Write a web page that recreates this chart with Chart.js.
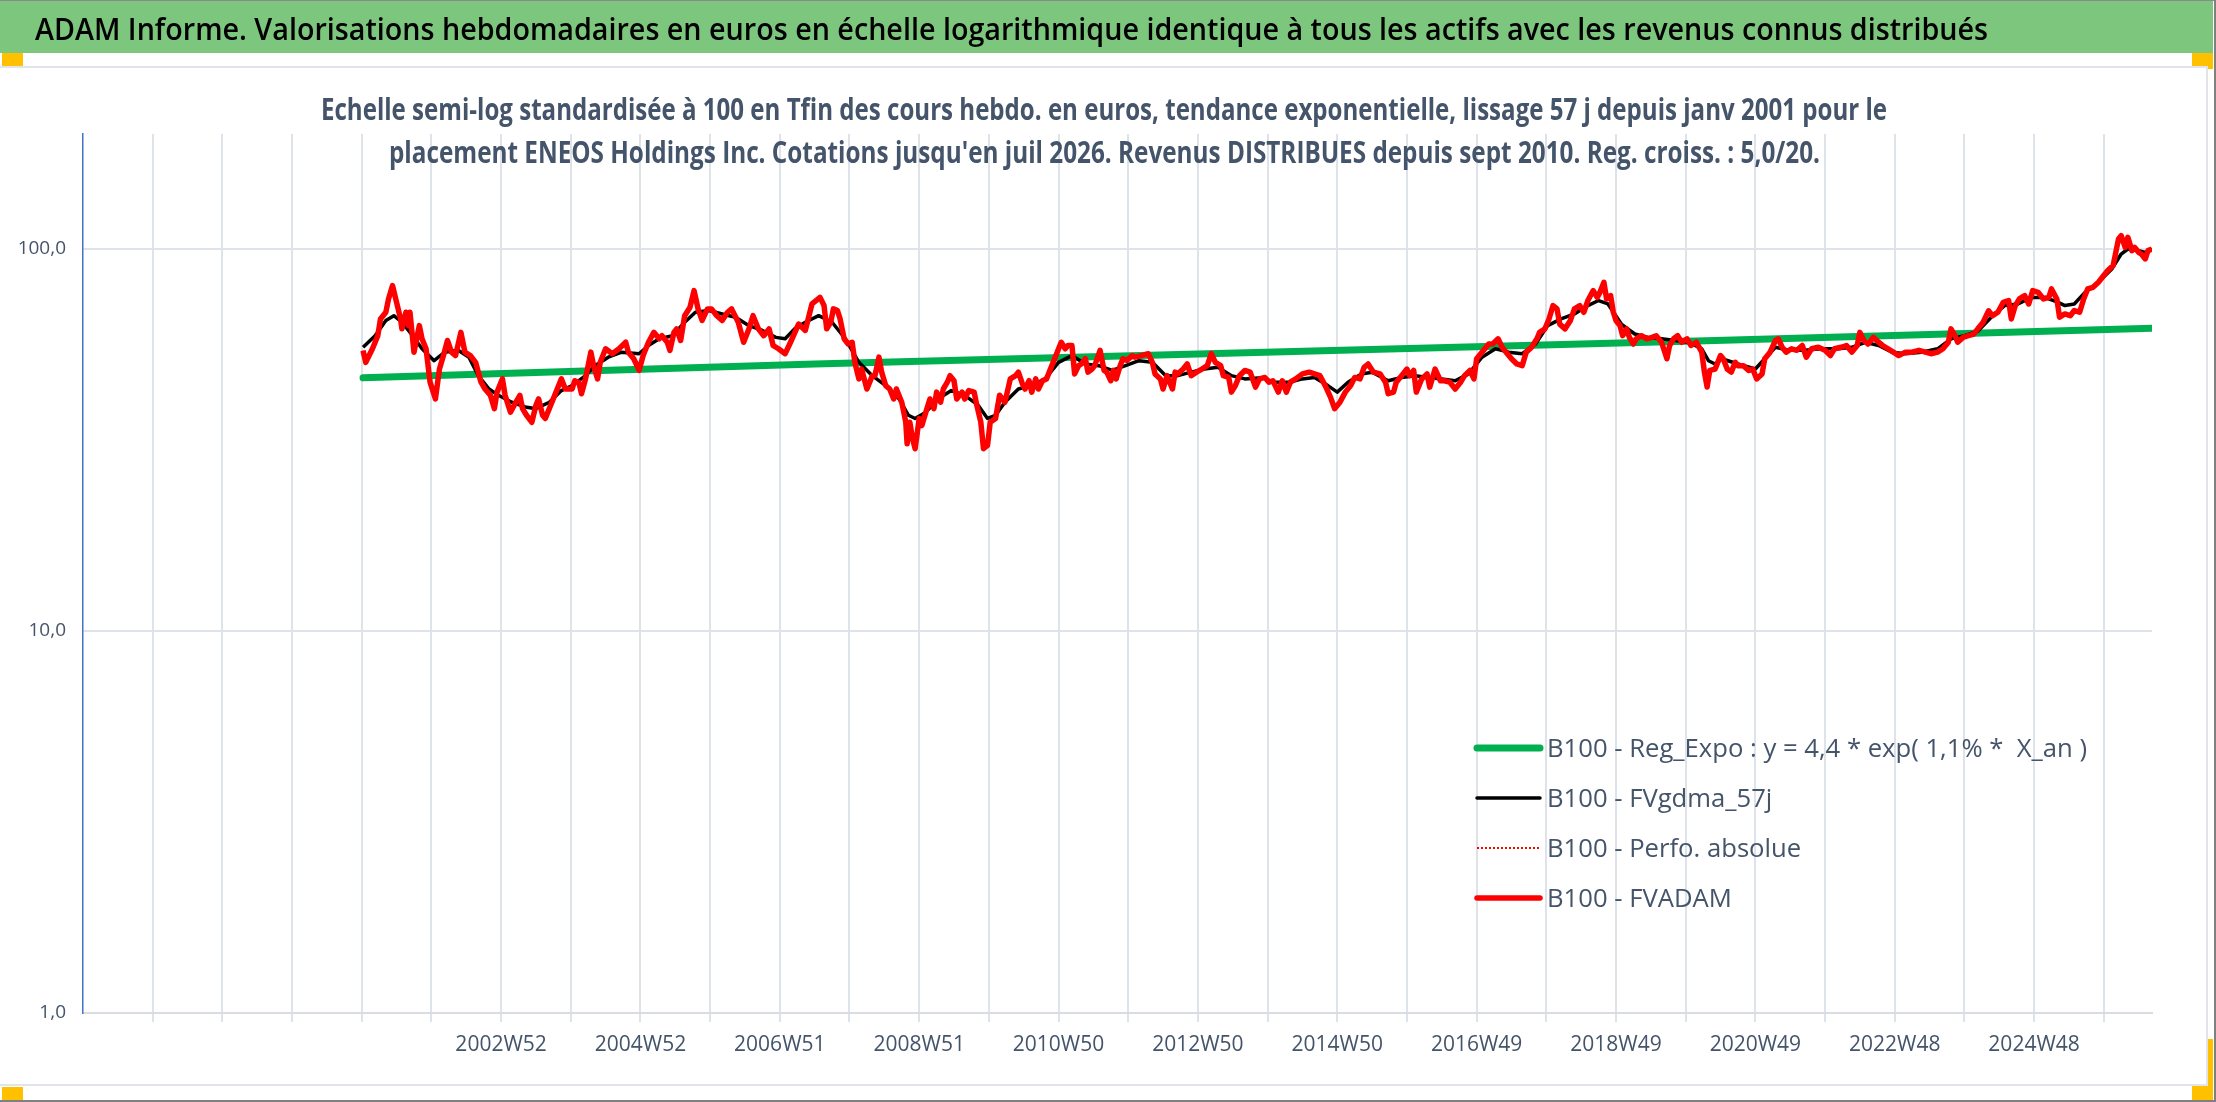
<!DOCTYPE html>
<html>
<head>
<meta charset="utf-8">
<script src="https://cdn.jsdelivr.net/npm/chart.js@4.4.1/dist/chart.umd.min.js"></script>
<style>
html, body { margin: 0; padding: 0; background: #fff; }
#page { position: relative; width: 2216px; height: 1102px; overflow: hidden; background: #fff; }
#band { position: absolute; left: 0; top: 1px; width: 2213px; height: 52px; background: #7dc67d; }
.sq { position: absolute; background: #ffc000; }
#box { position: absolute; left: 0; top: 66px; width: 2208px; height: 1020px; box-sizing: border-box;
       border: 2px solid #e1e4e8; border-left: none; background: #fff; }
#frameR { position: absolute; left: 2214px; top: 0; width: 2px; height: 1102px; background: #808080; }
#frameB { position: absolute; left: 0; top: 1100px; width: 2216px; height: 2px; background: #808080; }
#frameT { position: absolute; left: 0; top: 0; width: 2216px; height: 1px; background: #8a8a8a; }
#chartWrap { position: absolute; left: 0; top: 0; width: 2216px; height: 1102px; }
.txt { position: absolute; left: 0; top: 0; white-space: nowrap; transform-origin: 0 0; line-height: normal; }
#head { font: 600 31px 'Open Sans'; color: #000; }
.sub { font: 700 30px 'Open Sans'; color: #44546a; }
</style>
</head>
<body>
<div id="page">
  <div id="band"></div>
  <div class="sq" style="left:2px;top:53px;width:21px;height:13px"></div>
  <div class="sq" style="left:2192px;top:53px;width:21px;height:16px"></div>
  <div class="sq" style="left:2192px;top:1039px;width:21px;height:61px"></div>
  <div class="sq" style="left:2px;top:1087px;width:21px;height:13px"></div>
  <div id="box"></div>
  <div id="chartWrap"><canvas id="chart" width="2216" height="1102"></canvas></div>
  <div id="head" class="txt">ADAM Informe. Valorisations hebdomadaires en euros en échelle logarithmique identique à tous les actifs avec les revenus connus distribués</div>
  <div id="sub1" class="txt sub">Echelle semi-log standardisée à 100 en Tfin des cours hebdo. en euros, tendance exponentielle, lissage 57 j depuis janv 2001 pour le</div>
  <div id="sub2" class="txt sub">placement ENEOS Holdings Inc. Cotations jusqu'en juil 2026. Revenus DISTRIBUES depuis sept 2010. Reg. croiss. : 5,0/20.</div>
  <div id="frameT"></div>
  <div id="frameR"></div>
  <div id="frameB"></div>
</div>
<script>
// weeks are counted from 1997W01 (index 0)
const lastWeek = 1544;

const xTickWeeks = [312, 416, 520, 624, 728, 832, 936, 1040, 1144, 1248, 1352, 1456];
const xTickLabels = ['2002W52', '2004W52', '2006W51', '2008W51', '2010W50', '2012W50',
                     '2014W50', '2016W49', '2018W49', '2020W49', '2022W48', '2024W48'];
const yTickValues = [1, 10, 100];
const yTickLabels = ['1,0', '10,0', '100,0'];

// B100 - Reg_Expo
const regWeeks = [209, 546, 882, 1218, 1544];
const regValues = [46.0, 50.0, 53.7, 57.6, 62.0];

// B100 - FVgdma_57j (smoothed)
const gdmaWeeks = [209, 218, 226, 232, 238, 246, 253, 262, 270, 280, 288, 295, 303, 310, 320, 330, 338, 348, 357, 365,
  375, 382, 392, 402, 415, 422, 430, 440, 449, 457, 467, 477, 487, 497, 507, 517, 524, 531, 539, 549,
  559, 569, 579, 589, 599, 609, 616, 621, 629, 638, 648, 658, 668, 675, 681, 688, 698, 708, 718, 728,
  738, 748, 758, 768, 778, 788, 798, 808, 817, 827, 837, 847, 857, 867, 882, 887, 900, 910, 919, 929,
  936, 944, 954, 962, 974, 984, 994, 1004, 1014, 1024, 1034, 1044, 1054, 1064, 1074, 1084, 1093, 1103, 1113, 1123,
  1131, 1138, 1148, 1158, 1168, 1178, 1188, 1198, 1208, 1213, 1218, 1223, 1235, 1248, 1255, 1263, 1273, 1285, 1297, 1310,
  1320, 1330, 1340, 1350, 1360, 1372, 1384, 1394, 1404, 1414, 1424, 1434, 1444, 1454, 1464, 1474, 1479, 1486, 1494, 1504,
  1514, 1521, 1526, 1534, 1539, 1544];
const gdmaValues = [55.3, 59.3, 65.0, 66.9, 64.3, 59.3, 54.8, 51.0, 53.7, 54.3, 52.1, 46.6, 43.0, 41.4, 39.7, 38.6, 38.2, 39.7, 42.6, 43.9,
  46.6, 49.5, 52.1, 53.7, 53.2, 55.9, 58.2, 59.3, 64.3, 68.3, 69.0, 67.6, 66.3, 63.0, 61.2, 58.7, 58.2, 61.8, 64.3, 66.9,
  64.3, 58.2, 50.5, 46.6, 43.9, 40.5, 36.7, 36.0, 37.4, 40.5, 42.6, 41.4, 39.0, 36.0, 36.7, 39.7, 43.0, 43.9, 45.7, 50.5,
  52.6, 50.0, 49.5, 48.1, 49.5, 51.0, 50.5, 46.6, 46.6, 47.6, 48.5, 49.0, 46.6, 45.7, 46.1, 44.8, 44.8, 45.7, 46.1, 43.9,
  42.2, 44.8, 47.1, 47.6, 45.2, 46.1, 46.6, 46.1, 45.7, 45.2, 47.1, 52.1, 54.8, 53.7, 53.2, 56.4, 63.0, 65.6, 67.6, 71.1,
  73.3, 71.8, 63.6, 59.9, 58.7, 58.2, 57.6, 57.0, 54.8, 51.0, 50.0, 51.6, 50.0, 48.5, 51.6, 55.3, 54.3, 54.3, 54.8, 54.8,
  55.3, 57.0, 55.9, 53.7, 53.2, 53.7, 54.8, 58.2, 59.3, 60.9, 66.3, 71.1, 71.8, 74.7, 74.7, 72.5, 71.1, 71.8, 77.0, 81.8,
  88.6, 97.0, 100.0, 99.0, 98.0, 99.6];

// B100 - FVADAM (weekly valuation, read at turning points)
const fvadamWeeks = [209, 211, 216, 220, 222, 226, 228, 231, 234, 237, 238, 241, 243, 244, 247, 251, 253, 256, 259, 263,
  266, 269, 272, 275, 278, 282, 285, 289, 293, 297, 300, 304, 307, 309, 313, 315, 319, 323, 326, 328,
  331, 335, 338, 340, 343, 345, 349, 353, 357, 360, 365, 367, 370, 372, 375, 379, 381, 384, 386, 390,
  395, 400, 405, 407, 411, 415, 418, 422, 426, 430, 432, 436, 438, 441, 443, 446, 449, 453, 456, 459,
  462, 466, 469, 473, 477, 481, 484, 489, 493, 497, 500, 504, 508, 512, 515, 519, 524, 528, 534, 539,
  544, 550, 553, 555, 558, 560, 563, 565, 568, 571, 574, 576, 579, 581, 585, 589, 591, 594, 596, 599,
  602, 605, 607, 611, 614, 615, 617, 619, 621, 624, 626, 629, 632, 635, 637, 640, 642, 645, 647, 650,
  652, 656, 658, 661, 665, 667, 670, 672, 675, 677, 681, 684, 688, 692, 696, 698, 701, 703, 706, 708,
  711, 713, 716, 719, 723, 727, 730, 733, 735, 738, 740, 743, 745, 748, 750, 753, 755, 759, 762, 764,
  767, 769, 771, 774, 776, 779, 783, 785, 790, 795, 798, 800, 804, 806, 809, 813, 815, 817, 821, 824,
  827, 831, 835, 839, 842, 845, 849, 851, 855, 857, 860, 863, 867, 871, 875, 878, 882, 885, 888, 892,
  895, 898, 901, 905, 910, 915, 919, 923, 927, 931, 934, 938, 942, 946, 949, 953, 956, 959, 963, 968,
  972, 974, 978, 980, 984, 988, 990, 993, 995, 999, 1003, 1005, 1009, 1013, 1016, 1020, 1024, 1028, 1031, 1035,
  1038, 1040, 1044, 1049, 1052, 1056, 1059, 1062, 1066, 1070, 1074, 1077, 1081, 1085, 1087, 1091, 1094, 1097, 1100, 1102,
  1106, 1110, 1113, 1117, 1120, 1123, 1127, 1130, 1132, 1135, 1137, 1140, 1142, 1144, 1147, 1149, 1152, 1154, 1157, 1159,
  1163, 1167, 1171, 1174, 1178, 1182, 1184, 1187, 1190, 1193, 1197, 1200, 1204, 1208, 1210, 1212, 1214, 1218, 1222, 1224,
  1227, 1230, 1233, 1235, 1239, 1243, 1246, 1249, 1253, 1255, 1259, 1263, 1265, 1268, 1271, 1275, 1279, 1283, 1286, 1290,
  1295, 1300, 1304, 1307, 1312, 1316, 1320, 1324, 1326, 1329, 1332, 1336, 1340, 1343, 1347, 1351, 1355, 1360, 1365, 1370,
  1375, 1379, 1384, 1388, 1392, 1394, 1397, 1399, 1403, 1407, 1411, 1414, 1418, 1422, 1425, 1429, 1433, 1437, 1439, 1442,
  1445, 1449, 1452, 1455, 1459, 1463, 1467, 1469, 1473, 1475, 1479, 1483, 1486, 1490, 1493, 1496, 1500, 1504, 1508, 1511,
  1515, 1519, 1521, 1524, 1526, 1529, 1531, 1534, 1536, 1539, 1541, 1544];
const fvadamValues = [54.2, 50.5, 54.8, 59.3, 65.6, 68.3, 74.0, 80.2, 72.5, 65.6, 61.8, 68.3, 63.0, 68.3, 53.7, 63.0, 58.2, 54.8, 44.8, 40.5,
  48.5, 52.6, 57.6, 53.7, 52.6, 60.5, 53.7, 52.6, 50.5, 44.8, 43.0, 41.4, 38.2, 42.2, 45.7, 41.4, 37.4, 39.7, 41.4, 38.2,
  36.7, 35.2, 39.0, 40.5, 36.7, 36.0, 39.0, 42.2, 45.7, 43.0, 43.0, 45.2, 44.8, 41.8, 45.7, 53.7, 49.5, 45.7, 50.5, 54.8,
  53.2, 54.8, 57.0, 53.7, 51.6, 48.1, 52.6, 57.0, 60.5, 58.2, 59.3, 57.0, 54.3, 60.5, 61.8, 57.6, 66.9, 70.4, 77.8, 69.7,
  65.0, 69.7, 69.7, 66.9, 65.0, 68.3, 69.7, 64.3, 57.0, 61.8, 66.9, 61.8, 59.3, 61.8, 55.9, 54.8, 53.2, 57.0, 63.6, 61.2,
  71.8, 74.7, 71.1, 61.8, 64.3, 69.7, 69.0, 65.6, 58.2, 56.4, 57.0, 50.5, 45.7, 48.5, 43.0, 46.6, 46.6, 52.1, 47.6, 43.9,
  43.0, 40.5, 43.0, 39.7, 35.2, 30.9, 35.2, 31.9, 30.0, 36.0, 34.5, 37.4, 40.5, 38.2, 42.2, 39.7, 43.0, 44.8, 46.6, 45.2,
  40.5, 42.2, 40.5, 42.6, 42.2, 39.0, 35.2, 30.0, 30.6, 35.2, 36.0, 41.4, 39.7, 45.7, 46.6, 47.6, 44.4, 43.0, 45.2, 42.2,
  45.7, 43.0, 45.2, 45.7, 49.5, 53.7, 57.0, 54.8, 55.9, 55.9, 47.1, 49.5, 50.0, 51.6, 47.6, 48.5, 49.5, 54.3, 48.1, 47.6,
  45.2, 48.1, 45.7, 49.5, 51.6, 51.1, 52.6, 52.1, 52.6, 53.2, 50.5, 47.1, 45.7, 43.0, 46.6, 43.0, 47.6, 47.1, 48.5, 50.0,
  46.6, 47.6, 48.5, 49.5, 53.2, 50.5, 49.5, 46.6, 46.1, 42.2, 43.9, 46.6, 48.1, 47.6, 43.5, 45.7, 46.1, 44.8, 45.2, 42.2,
  45.2, 42.2, 44.8, 45.7, 47.1, 47.6, 47.1, 46.6, 43.9, 40.9, 38.2, 39.7, 42.2, 43.9, 46.1, 45.7, 49.0, 50.0, 47.6, 47.1,
  44.8, 41.8, 42.2, 44.8, 46.6, 48.5, 46.6, 48.1, 42.2, 45.7, 47.1, 43.5, 48.5, 45.2, 45.2, 44.8, 43.0, 44.8, 46.6, 48.1,
  45.7, 51.6, 53.7, 56.4, 56.4, 58.2, 55.3, 53.7, 51.6, 50.0, 49.5, 53.7, 55.3, 58.2, 60.5, 61.8, 65.6, 71.1, 69.7, 63.6,
  61.8, 65.0, 69.7, 71.1, 68.3, 73.3, 77.8, 74.7, 77.0, 81.8, 74.0, 75.5, 68.3, 65.0, 63.0, 59.3, 61.8, 58.7, 56.4, 58.2,
  59.3, 58.2, 58.7, 59.3, 57.0, 51.6, 55.9, 58.2, 59.3, 57.0, 58.2, 55.9, 57.0, 53.7, 47.6, 43.5, 48.1, 48.5, 52.6, 51.6,
  48.5, 47.6, 50.5, 49.5, 49.5, 48.1, 48.5, 45.7, 47.1, 51.6, 53.7, 57.6, 58.2, 55.3, 53.7, 54.8, 54.3, 55.9, 52.1, 54.8,
  55.3, 54.3, 52.6, 54.8, 55.3, 55.9, 53.7, 55.9, 60.5, 57.6, 56.4, 58.7, 57.0, 55.9, 54.8, 53.7, 52.6, 53.7, 53.7, 54.3,
  53.7, 53.2, 53.7, 54.8, 57.0, 61.8, 59.3, 57.0, 58.7, 59.3, 59.9, 61.8, 64.3, 68.9, 66.9, 68.3, 72.5, 73.3, 65.6, 71.1,
  74.0, 75.5, 71.8, 77.8, 77.0, 74.0, 74.7, 78.6, 74.0, 66.3, 67.6, 66.9, 69.0, 68.3, 74.0, 78.6, 79.4, 81.8, 85.2, 87.8,
  90.5, 106.2, 108.4, 101.0, 107.3, 99.0, 101.0, 98.0, 97.0, 94.2, 99.0, 100.0];

const toPoints = (weeks, values) => weeks.map((w, i) => ({ x: w, y: values[i] }));

const gridWeeks = [];
for (let w = 0; w <= lastWeek; w += 52) gridWeeks.push(w);

const gridColor = '#dee3ea';

const insideLegend = {
  id: 'insideLegend',
  afterDraw(chart) {
    const { ctx, chartArea } = chart;
    const x0 = chartArea.left + 1394;
    const len = 63;
    ctx.save();
    ctx.font = '400 25px "Open Sans"';
    const sx = 540 / ctx.measureText(chart.data.datasets[0].label).width;
    chart.data.datasets.forEach((ds, i) => {
      const y = chartArea.top + 614 + i * 50;
      ctx.beginPath();
      ctx.strokeStyle = ds.borderColor;
      ctx.lineWidth = ds.borderWidth;
      ctx.setLineDash(ds.borderDash || []);
      ctx.lineCap = ds.borderDash ? 'butt' : 'round';
      ctx.moveTo(x0, y);
      ctx.lineTo(x0 + len, y);
      ctx.stroke();
      ctx.setLineDash([]);
      ctx.save();
      ctx.translate(x0 + len + 7, y + 9);
      ctx.scale(sx, 1);
      ctx.fillStyle = '#44546a';
      ctx.textBaseline = 'alphabetic';
      ctx.fillText(ds.label, 0, 0);
      ctx.restore();
    });
    ctx.restore();
  }
};

function fit(id, left, baseline, width) {
  const el = document.getElementById(id);
  const probe = document.createElement('span');
  probe.style.cssText = 'display:inline-block;width:0;height:0;vertical-align:baseline';
  el.appendChild(probe);
  const base = probe.offsetTop;
  el.removeChild(probe);
  const w = el.getBoundingClientRect().width;
  el.style.left = left + 'px';
  el.style.top = (baseline - base) + 'px';
  el.style.transform = 'scaleX(' + (width / w) + ')';
}

function build() {
  fit('head', 35, 40, 1953);
  fit('sub1', 321, 120, 1566);
  fit('sub2', 389, 163, 1431);

  new Chart(document.getElementById('chart'), {
    type: 'line',
    data: {
      datasets: [
        {
          label: 'B100 - Reg_Expo : y = 4,4 * exp( 1,1% *  X_an )',
          data: toPoints(regWeeks, regValues),
          borderColor: '#00b050',
          borderWidth: 7,
          borderCapStyle: 'round',
          order: 3
        },
        {
          label: 'B100 - FVgdma_57j',
          data: toPoints(gdmaWeeks, gdmaValues),
          borderColor: '#000000',
          borderWidth: 3.5,
          order: 2
        },
        {
          label: 'B100 - Perfo. absolue',
          data: toPoints(fvadamWeeks, fvadamValues),
          borderColor: '#ff0000',
          borderWidth: 2,
          borderDash: [2, 2],
          order: 1
        },
        {
          label: 'B100 - FVADAM',
          data: toPoints(fvadamWeeks, fvadamValues),
          borderColor: '#ff0000',
          borderWidth: 5.5,
          order: 0
        }
      ]
    },
    options: {
      responsive: false,
      animation: false,
      events: [],
      elements: {
        point: { radius: 0 },
        line: { tension: 0, borderJoinStyle: 'round', fill: false }
      },
      layout: { padding: { left: 0, top: 134, right: 64, bottom: 29 } },
      scales: {
        x: {
          type: 'linear',
          min: 0,
          max: lastWeek,
          afterBuildTicks: (scale) => { scale.ticks = gridWeeks.map(v => ({ value: v })); },
          afterFit: (scale) => { scale.height = 60; },
          grid: {
            color: (c) => (c.tick && c.tick.value > 0 ? gridColor : 'rgba(0,0,0,0)'),
            lineWidth: 2,
            drawTicks: true,
            tickLength: 9
          },
          border: { color: '#d9dde3', width: 2 },
          ticks: {
            autoSkip: false,
            maxRotation: 0,
            padding: 10,
            color: '#44546a',
            font: { family: 'Open Sans', size: 21 },
            callback: (value) => {
              const k = xTickWeeks.indexOf(value);
              return k >= 0 ? xTickLabels[k] : '';
            }
          }
        },
        y: {
          type: 'logarithmic',
          min: 1,
          max: 200,
          afterBuildTicks: (scale) => { scale.ticks = yTickValues.map(v => ({ value: v })); },
          afterFit: (scale) => { scale.width = 83; },
          grid: { color: gridColor, lineWidth: 2, drawTicks: false },
          border: { color: '#4472c4', width: 1.5 },
          ticks: {
            padding: 17,
            color: '#44546a',
            font: { family: 'Open Sans', size: 19 },
            callback: (value) => {
              const k = yTickValues.indexOf(value);
              return k >= 0 ? yTickLabels[k] : '';
            }
          }
        }
      },
      plugins: {
        legend: { display: false },
        tooltip: { enabled: false },
        title: { display: false }
      }
    },
    plugins: [insideLegend]
  });
}

Promise.all([
  document.fonts.load('600 31px "Open Sans"'),
  document.fonts.load('700 30px "Open Sans"')
]).then(build, build);
</script>
</body>
</html>
